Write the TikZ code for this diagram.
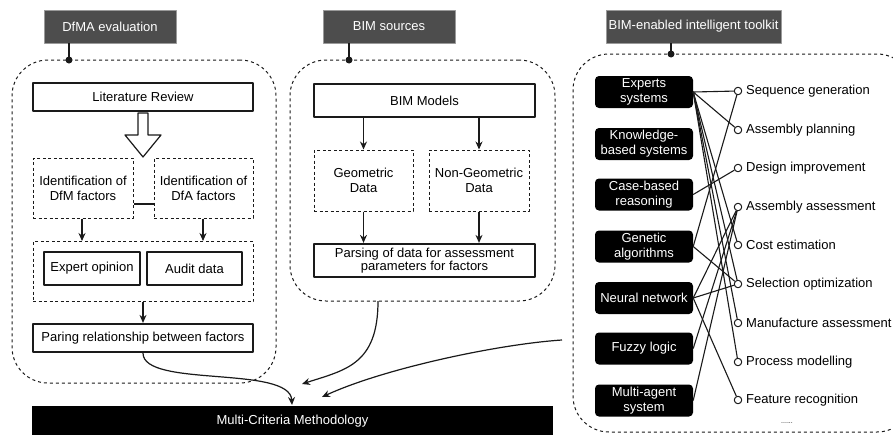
\documentclass[tikz,border=0pt]{standalone}
\usepackage{fontspec}
\setmainfont{Liberation Sans}
\usetikzlibrary{arrows.meta}
\definecolor{hdrgray}{HTML}{4D4D4D}
\definecolor{hdrline}{HTML}{9A9A9A}
\definecolor{ink}{HTML}{1A1A1A}
\begin{document}
\begin{tikzpicture}[x=1pt,y=-1pt,
  font=\fontsize{13pt}{15pt}\selectfont,
  line join=round,
  box/.style={draw=ink, line width=1.2pt, inner sep=0pt, align=center},
  thickbox/.style={box, line width=2.2pt},
  dbox/.style={box, dash pattern=on 3pt off 2.5pt, line width=1pt},
  cont/.style={draw=ink, dash pattern=on 3pt off 3pt, line width=1pt, rounded corners=36pt, inner sep=0pt},
  hdr/.style={fill=hdrgray, draw=hdrline, line width=0.8pt, text=white, minimum height=33pt, inner sep=0pt},
  dotn/.style={circle, fill=ink, inner sep=0pt, minimum size=7pt},
  tk/.style={fill=black, text=white, rounded corners=4pt, minimum width=98pt, minimum height=32pt, align=center, inner sep=0pt},
  oc/.style={circle, draw=ink, fill=white, line width=1pt, inner sep=0pt, minimum size=7.5pt},
  lbl/.style={anchor=west, inner sep=0pt},
  arr/.style={draw=ink, line width=1.2pt, -{Stealth[length=8pt,width=7pt]}},
  ln/.style={draw=ink, line width=1.1pt}
]
\clip (0,0) rectangle (893,434);
\useasboundingbox (0,0) rectangle (893,434);

% containers
\node[cont, minimum width=264pt, minimum height=323pt] (c1) at (144,221.5) {};
\node[cont, minimum width=265pt, minimum height=241pt] (c2) at (422.5,180.5) {};
\node[cont, minimum width=340pt, minimum height=378pt] (c3) at (743,243) {};

% headers
\node[hdr, minimum width=132pt] (h1) at (110,26.5) {DfMA evaluation};
\node[hdr, minimum width=132pt] (h2) at (389,26.5) {BIM sources};
\node[hdr, minimum width=175pt] (h3) at (693.5,26.5) {BIM-enabled intelligent toolkit};
\node[dotn] (d1) at (69,60) {};
\node[dotn] (d2) at (349,60) {};
\node[dotn] (d3) at (671,54) {};
\draw[ln] (h1.south -| d1) -- (d1.center);
\draw[ln] (h2.south -| d2) -- (d2.center);
\draw[ln] (h3.south -| d3) -- (d3.center);

% DfMA evaluation
\node[thickbox, minimum width=220pt, minimum height=28pt] (lit) at (143,97) {Literature Review};
\draw[ln, line width=1.2pt, fill=white] (138,113) -- (148,113) -- (148,135) -- (161,135) -- (143,157) -- (125,135) -- (138,135) -- cycle;
\node[dbox, minimum width=100pt, minimum height=60pt] (dfm) at (83,188) {Identification of\\DfM factors};
\node[dbox, minimum width=99pt, minimum height=60pt] (dfa) at (203.5,188) {Identification of\\DfA factors};
\draw[ln] (dfm.east |- 0,204) -- (dfa.west |- 0,204);
\node[dbox, minimum width=220pt, minimum height=60pt] (grp) at (143,271.5) {};
\node[box, minimum width=96pt, minimum height=33pt] (exp) at (92,268.5) {Expert opinion};
\node[box, minimum width=95pt, minimum height=33pt] (aud) at (194.5,268.5) {Audit data};
\draw[arr] (dfm.south -| 82,0) -- (grp.north -| 82,0);
\draw[arr] (dfa.south -| 203,0) -- (grp.north -| 203,0);
\node[thickbox, minimum width=220pt, minimum height=28pt] (par) at (143,338) {Paring relationship between factors};
\draw[arr] (grp.south) -- (par.north);

% BIM sources
\node[thickbox, minimum width=221pt, minimum height=33pt] (bim) at (424.5,100.5) {BIM Models};
\node[dbox, minimum width=99pt, minimum height=61pt] (geo) at (363.5,180.5) {Geometric\\Data};
\node[dbox, minimum width=100pt, minimum height=61pt] (ngeo) at (479,180.5) {Non-Geometric\\Data};
\draw[arr] (bim.south -| geo) -- (geo.north);
\draw[arr] (bim.south -| ngeo) -- (ngeo.north);
\node[thickbox, minimum width=221pt, minimum height=33pt, font=\fontsize{13pt}{13.5pt}\selectfont] (pars) at (424.5,260.5) {Parsing of data for assessment\\parameters for factors};
\draw[arr] (geo.south) -- (pars.north -| geo);
\draw[arr] (ngeo.south) -- (pars.north -| ngeo);

% Multi-criteria
\node[fill=black, text=white, minimum width=521pt, minimum height=30pt, inner sep=0pt] (mcm) at (292.5,421) {Multi-Criteria Methodology};
\coordinate (t1) at (292,405);
\coordinate (t2) at (302,384);
\coordinate (t3) at (322,397);
\coordinate (s2) at (378,301);
\coordinate (s3) at (562,340);
\draw[arr] (par.south) .. controls (143,388) and (290,365) .. (t1);
\draw[arr] (s2) .. controls (378,365) and (345,370) .. (t2);
\draw[arr] (s3) .. controls (500,344) and (385,368) .. (t3);

% toolkit
\node[tk] (es) at (644,92) {Experts\\systems};
\node[tk] (kb) at (644,144) {Knowledge-\\based systems};
\node[tk] (cb) at (644,194.5) {Case-based\\reasoning};
\node[tk] (ga) at (644,246.5) {Genetic\\algorithms};
\node[tk] (nn) at (644,298) {Neural network};
\node[tk] (fl) at (644,348.5) {Fuzzy logic};
\node[tk] (ma) at (644,400.5) {Multi-agent\\system};

\node[oc] (o1) at (738,91) {};
\node[oc] (o2) at (738,130) {};
\node[oc] (o3) at (738,168) {};
\node[oc] (o4) at (738,207) {};
\node[oc] (o5) at (738,245) {};
\node[oc] (o6) at (738,284) {};
\node[oc] (o7) at (738,323) {};
\node[oc] (o8) at (738,362) {};
\node[oc] (o9) at (738,400) {};

\foreach \t in {o1,o2,o5,o6,o7,o8} \draw[ln] (es.east) -- (\t);
\draw[ln] (cb.east) -- (o3);
\draw[ln] (ga.east) -- (o1);
\draw[ln] (ga.east) -- (o6);
\draw[ln] (nn.east) -- (o4);
\draw[ln] (nn.east) -- (o6);
\draw[ln] (nn.east) -- (o9);
\draw[ln] (fl.east) -- (o4);
\draw[ln] (ma.east) -- (o4);

\node[lbl] (l1) at (746,91) {Sequence generation};
\node[lbl] (l2) at (746,130) {Assembly planning};
\node[lbl] (l3) at (746,168) {Design improvement};
\node[lbl] (l4) at (746,207) {Assembly assessment};
\node[lbl] (l5) at (746,245) {Cost estimation};
\node[lbl] (l6) at (746,284) {Selection optimization};
\node[lbl] (l7) at (746,323) {Manufacture assessment};
\node[lbl] (l8) at (746,362) {Process modelling};
\node[lbl] (l9) at (746,400) {Feature recognition};
\node[font=\fontsize{7pt}{8pt}\selectfont, text=ink] (more) at (787,423) {......};
\end{tikzpicture}
\end{document}
